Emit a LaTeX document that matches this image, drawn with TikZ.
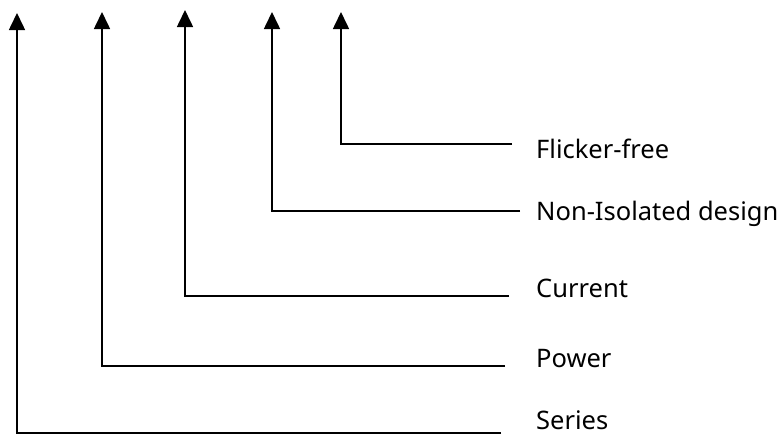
\documentclass[tikz,border=0pt]{standalone}
\usepackage{fontspec}
\setmainfont{Noto Sans}
\usetikzlibrary{arrows.meta}
\begin{document}
\begin{tikzpicture}[x=1pt,y=-1pt,
  lead/.style={line width=1.6pt,-{Triangle[width=16pt,length=17pt]}},
  lbl/.style={anchor=base west,inner sep=0pt,font=\fontsize{25.5}{30}\selectfont}]
\useasboundingbox (0,0) rectangle (780,437);
% labels
\node[lbl] (ff) at (536,158) {Flicker-free};
\node[lbl] (ni) at (536,220) {Non-Isolated design};
\node[lbl] (cu) at (536,297) {Current};
\node[lbl] (po) at (536,367) {Power};
\node[lbl] (se) at (536,429) {Series};
% coordinates
\coordinate (t1) at (17,13);  \coordinate (c1) at (17,433);  \coordinate (e1) at (501,433);
\coordinate (t2) at (102,12); \coordinate (c2) at (102,366); \coordinate (e2) at (505,366);
\coordinate (t3) at (185,10); \coordinate (c3) at (185,296); \coordinate (e3) at (509,296);
\coordinate (t4) at (272,12); \coordinate (c4) at (272,211); \coordinate (e4) at (520,211);
\coordinate (t5) at (341,12); \coordinate (c5) at (341,144); \coordinate (e5) at (512,144);
% connectors
\draw[lead] (e1) -- (c1) -- (t1);
\draw[lead] (e2) -- (c2) -- (t2);
\draw[lead] (e3) -- (c3) -- (t3);
\draw[lead] (e4) -- (c4) -- (t4);
\draw[lead] (e5) -- (c5) -- (t5);
\end{tikzpicture}
\end{document}
